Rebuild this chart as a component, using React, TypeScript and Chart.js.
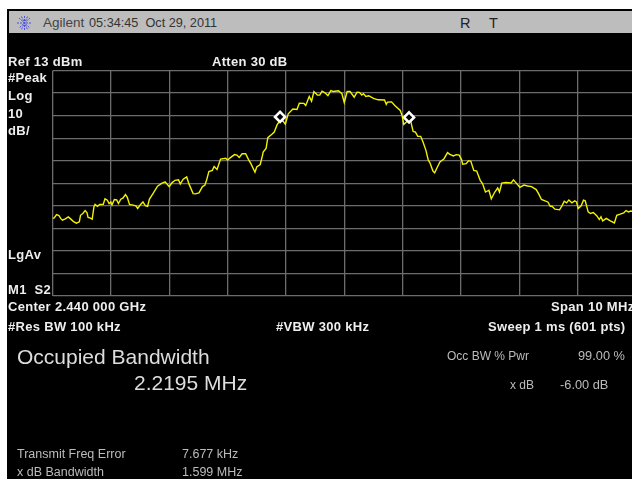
import React, { useEffect, useRef } from "react";
import { Chart, registerables } from "chart.js";

Chart.register(...registerables);

// Offset from the 2.440 GHz centre, MHz
const freqOffsets = [-5.00,-4.97,-4.93,-4.89,-4.86,-4.83,-4.78,-4.73,-4.69,-4.64,-4.59,-4.54,-4.52,-4.48,-4.44,-4.41,-4.39,-4.35,-4.32,-4.29,-4.27,-4.23,-4.19,-4.13,-4.10,-4.06,-4.03,-4.00,-3.98,-3.94,-3.90,-3.87,-3.83,-3.79,-3.75,-3.72,-3.68,-3.62,-3.57,-3.54,-3.49,-3.45,-3.41,-3.37,-3.34,-3.27,-3.20,-3.13,-3.07,-3.00,-2.95,-2.90,-2.84,-2.81,-2.76,-2.70,-2.66,-2.59,-2.55,-2.49,-2.43,-2.39,-2.36,-2.32,-2.26,-2.23,-2.18,-2.12,-2.03,-2.00,-1.94,-1.88,-1.84,-1.80,-1.75,-1.69,-1.64,-1.60,-1.53,-1.50,-1.44,-1.40,-1.39,-1.34,-1.31,-1.24,-1.20,-1.15,-1.10,-1.05,-1.01,-0.96,-0.88,-0.81,-0.77,-0.69,-0.66,-0.60,-0.56,-0.52,-0.46,-0.42,-0.38,-0.33,-0.28,-0.23,-0.19,-0.10,-0.04,0.00,0.05,0.10,0.17,0.22,0.26,0.30,0.33,0.37,0.42,0.50,0.58,0.69,0.72,0.74,0.81,0.87,0.96,0.99,1.02,1.06,1.10,1.14,1.18,1.22,1.26,1.31,1.35,1.40,1.44,1.47,1.52,1.55,1.59,1.64,1.71,1.77,1.81,1.87,1.92,1.97,2.01,2.03,2.09,2.13,2.17,2.22,2.27,2.33,2.37,2.42,2.48,2.52,2.58,2.63,2.66,2.70,2.77,2.86,2.90,2.97,3.01,3.08,3.14,3.21,3.29,3.33,3.38,3.44,3.49,3.53,3.56,3.61,3.69,3.73,3.77,3.81,3.85,3.90,3.95,3.98,4.01,4.06,4.10,4.13,4.18,4.22,4.27,4.33,4.37,4.40,4.43,4.49,4.56,4.63,4.67,4.73,4.79,4.83,4.87,4.91,5.00];

// Trace level, dBm
const levels = [-52.6,-52.4,-50.9,-51.3,-52.6,-53.4,-52.8,-51.9,-52.8,-54.0,-54.7,-54.1,-51.2,-50.4,-49.1,-50.0,-52.2,-52.5,-52.9,-47.5,-46.4,-47.2,-46.4,-46.3,-43.9,-44.5,-46.0,-45.3,-46.6,-44.2,-44.4,-46.0,-44.1,-43.5,-42.0,-43.1,-46.4,-46.7,-47.0,-48.2,-46.4,-45.3,-46.9,-47.2,-44.1,-41.3,-38.3,-37.1,-36.4,-38.5,-36.7,-35.7,-35.5,-37.3,-35.2,-34.2,-37.4,-41.6,-41.7,-41.3,-38.5,-37.9,-35.7,-31.8,-31.3,-29.6,-30.9,-26.3,-25.9,-26.7,-25.4,-24.3,-24.5,-25.6,-23.9,-23.9,-26.5,-28.3,-32.1,-29.8,-28.7,-24.5,-23.2,-21.6,-16.8,-15.3,-14.3,-11.0,-9.3,-9.4,-10.8,-6.2,-4.1,-4.3,-1.5,-1.6,-2.5,1.5,-0.6,3.6,2.1,2.1,3.8,3.1,1.9,4.1,3.7,4.0,2.7,-1.2,3.7,3.7,1.2,3.4,3.3,2.1,2.7,1.5,1.8,0.6,0.0,-0.1,-2.0,-1.0,-0.9,-2.6,-4.7,-6.9,-10.9,-9.9,-8.8,-9.6,-14.0,-14.3,-16.2,-16.2,-18.7,-22.4,-26.8,-28.0,-31.6,-32.4,-30.1,-27.6,-26.1,-23.4,-24.2,-24.9,-24.3,-24.5,-26.5,-28.6,-28.3,-27.0,-27.3,-31.3,-31.6,-35.7,-37.1,-40.9,-40.1,-43.9,-40.9,-39.1,-40.9,-36.9,-36.7,-36.9,-35.5,-37.6,-38.8,-37.8,-38.2,-38.5,-39.8,-41.6,-44.2,-44.8,-45.3,-47.2,-47.2,-48.5,-48.8,-47.0,-45.0,-45.7,-44.4,-45.7,-44.8,-45.3,-48.2,-47.0,-44.5,-44.8,-49.7,-50.4,-50.0,-51.5,-53.1,-51.9,-53.7,-52.6,-53.7,-54.6,-51.2,-50.7,-50.1,-49.1,-49.7,-49.3,-49.6];

const markerOffsets = [-1.10, 1.11];
const markerLevels = [-7.6, -7.8];

const refLevel = 13;
const bottomLevel = -87;

const boldLabels: [string, number, number][] = [
  ["Ref 13 dBm", 8, 61],
  ["Atten 30 dB", 212, 61],
  ["#Peak", 8, 77],
  ["Log", 8, 95],
  ["10", 8, 113],
  ["dB/", 8, 130],
  ["LgAv", 8, 254],
  ["M1  S2", 8, 289],
  ["Center 2.440 000 GHz", 8, 306],
  ["Span 10 MHz", 551, 306],
  ["#Res BW 100 kHz", 8, 326],
  ["#VBW 300 kHz", 276, 326],
  ["Sweep 1 ms (601 pts)", 488, 326],
];

const leftDetails: [string, number, number][] = [
  ["Transmit Freq Error", 17, 454],
  ["7.677 kHz", 182, 454],
  ["x dB Bandwidth", 17, 472],
  ["1.599 MHz", 182, 472],
];

const sans = '"Liberation Sans", Arial, sans-serif';

function Label({ text, x, y, style }: { text: string; x: number; y: number; style: React.CSSProperties }) {
  return (
    <div style={{ position: "absolute", left: x, top: y, transform: "translateY(-50%)", whiteSpace: "pre", fontFamily: sans, lineHeight: 1, ...style }}>
      {text}
    </div>
  );
}

export default function App() {
  const ref = useRef<HTMLCanvasElement>(null);

  useEffect(() => {
    document.body.style.margin = "0";
    document.body.style.overflow = "hidden";
    const chart = new Chart(ref.current!, {
      type: "scatter",
      data: {
        datasets: [
          {
            data: markerOffsets.map((x, i) => ({ x, y: markerLevels[i] })),
            showLine: false,
            pointStyle: "rectRot",
            pointRadius: 5,
            pointBackgroundColor: "#000000",
            pointBorderColor: "#ffffff",
            pointBorderWidth: 2.6,
            order: 0,
          },
          {
            data: freqOffsets.map((x, i) => ({ x, y: levels[i] })),
            showLine: true,
            borderColor: "#f2f200",
            borderWidth: 1.4,
            pointRadius: 0,
            tension: 0,
            order: 1,
          },
        ],
      },
      options: {
        animation: false,
        responsive: false,
        devicePixelRatio: 1,
        layout: { padding: { left: 45.5, right: 11, top: 61.5, bottom: 183 } },
        plugins: { legend: { display: false }, tooltip: { enabled: false } },
        scales: {
          x: {
            type: "linear",
            min: -5,
            max: 5,
            ticks: { stepSize: 1, display: false },
            grid: { color: "#6c6c6c", lineWidth: 1.3, drawTicks: false },
            border: { display: false },
          },
          y: {
            type: "linear",
            min: bottomLevel,
            max: refLevel,
            ticks: { stepSize: 10, display: false },
            grid: { color: "#6c6c6c", lineWidth: 1.3, drawTicks: false },
            border: { display: false },
          },
        },
      },
    });
    return () => chart.destroy();
  }, []);

  return (
    <div style={{ position: "relative", width: 632, height: 479, overflow: "hidden", background: "#fff" }}>
      <div style={{ position: "absolute", left: 7, top: 9, width: 640, height: 470, background: "#000" }}>
        <canvas ref={ref} width={640} height={470} style={{ display: "block", width: 640, height: 470 }} />
      </div>
      <div style={{ position: "absolute", left: 9, top: 11, width: 623, height: 21.5, background: "#bdbdbd" }} />
      <svg style={{ position: "absolute", left: 16, top: 15 }} width={17} height={16} viewBox="0 0 17 16">
        <g stroke="#4a50e0" strokeWidth={1} strokeDasharray="2 1" fill="none">
          <line x1={8.5} y1={1} x2={8.5} y2={15} />
          <line x1={1} y1={8} x2={16} y2={8} />
          <line x1={3} y1={3} x2={14} y2={13} />
          <line x1={14} y1={3} x2={3} y2={13} />
          <line x1={5.5} y1={1.5} x2={11.5} y2={14.5} />
          <line x1={11.5} y1={1.5} x2={5.5} y2={14.5} />
        </g>
      </svg>
      <Label text="Agilent" x={43} y={23} style={{ fontSize: 13.5, color: "#444" }} />
      <Label text="05:34:45  Oct 29, 2011" x={89} y={23} style={{ fontSize: 12.7, color: "#333" }} />
      <Label text="R" x={460} y={23} style={{ fontSize: 14.5, color: "#222" }} />
      <Label text="T" x={489} y={23} style={{ fontSize: 14.5, color: "#222" }} />
      {boldLabels.map(([t, x, y]) => (
        <Label key={t} text={t} x={x} y={y} style={{ fontSize: 13, letterSpacing: 0.3, fontWeight: 700, color: "#eeeeee" }} />
      ))}
      <Label text="Occupied Bandwidth" x={17} y={355.5} style={{ fontSize: 21, color: "#dddddd" }} />
      <Label text="2.2195 MHz" x={134} y={381.5} style={{ fontSize: 21, color: "#dddddd" }} />
      <Label text="Occ BW % Pwr" x={447} y={356} style={{ fontSize: 12, color: "#bbbbbb" }} />
      <Label text="99.00 %" x={578} y={356} style={{ fontSize: 12.8, color: "#bbbbbb" }} />
      <Label text="x dB" x={510} y={385} style={{ fontSize: 12, color: "#bbbbbb" }} />
      <Label text="-6.00 dB" x={560} y={385} style={{ fontSize: 12.8, color: "#bbbbbb" }} />
      {leftDetails.map(([t, x, y]) => (
        <Label key={t} text={t} x={x} y={y} style={{ fontSize: 12.5, color: "#bbbbbb" }} />
      ))}
    </div>
  );
}
